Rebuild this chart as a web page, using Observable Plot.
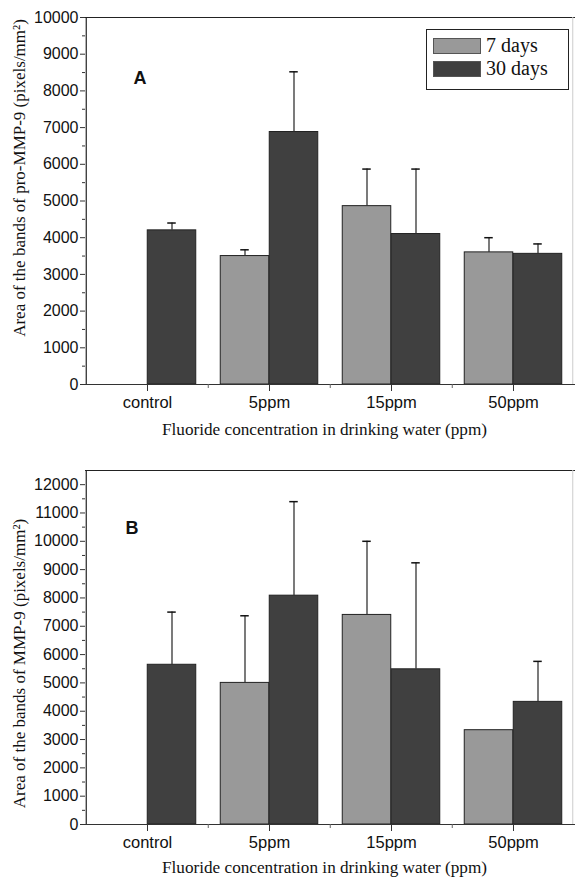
<!DOCTYPE html>
<html><head><meta charset="utf-8">
<script src="https://cdn.jsdelivr.net/npm/d3@7"></script>
<script src="https://cdn.jsdelivr.net/npm/@observablehq/plot@0.6"></script>
<style>
body{margin:0;background:#fff;width:575px;overflow:hidden;}
.panel{position:relative;width:575px;}
.panel svg{display:block;}
.legend{position:absolute;left:426px;top:29px;width:141px;height:59px;border:1.5px solid #222;background:#fff;font-family:"Liberation Serif",serif;font-size:20px;color:#111;}
.legend .row{position:absolute;left:6px;height:17px;display:flex;align-items:center;}
.legend .sw{width:48px;height:16px;border:1px solid #555;box-sizing:border-box;margin-right:5px;}
</style>
</head><body>
<div id="panelA" class="panel"></div>
<div id="panelB" class="panel"></div>
<script>
const categories = ["control", "5ppm", "15ppm", "50ppm"];
const seriesNames = ["7 days", "30 days"];
const seriesColors = ["#999999", "#404040"];

// Panel A: pro-MMP-9
const proMMP9_7d     = [null, 3500, 4860, 3600];
const proMMP9_7d_err = [null, 170, 1010, 400];
const proMMP9_30d     = [4200, 6880, 4100, 3560];
const proMMP9_30d_err = [200, 1640, 1770, 270];

// Panel B: MMP-9
const MMP9_7d     = [null, 5000, 7400, 3330];
const MMP9_7d_err = [null, 2370, 2600, 0];
const MMP9_30d     = [5640, 8080, 5480, 4330];
const MMP9_30d_err = [1860, 3320, 3760, 1430];

const yTicksA = [0,1000,2000,3000,4000,5000,6000,7000,8000,9000,10000];
const yTicksB = [0,1000,2000,3000,4000,5000,6000,7000,8000,9000,10000,11000,12000];

function rows(v7, e7, v30, e30) {
  const out = [];
  categories.forEach((c, i) => {
    if (v7[i] != null) out.push({cat: c, series: seriesNames[0], value: v7[i], err: e7[i]});
    if (v30[i] != null) out.push({cat: c, series: seriesNames[1], value: v30[i], err: e30[i]});
  });
  return out;
}

function panel({data, yMax, yTicks, letter, letterDx, letterDy, ylabel, height, marginTop, marginBottom, ylabelDy, xlabelDy}) {
  const width = 575, marginLeft = 85, marginRight = 0;
  const bw = (width - marginLeft - marginRight) / categories.length;
  const barW = bw * 0.4;
  const half = bw / 2;
  const capHalf = 4.5;
  const d7 = data.filter(d => d.series === seriesNames[0]);
  const d30 = data.filter(d => d.series === seriesNames[1]);
  const e7 = d7.filter(d => d.err > 0);
  const e30 = d30.filter(d => d.err > 0);
  const minor = yTicks.slice(0, -1).map(t => t + 500).filter(t => t <= yMax);
  const serif = "Liberation Serif, serif";
  return Plot.plot({
    width, height, marginLeft, marginRight, marginTop, marginBottom,
    style: {fontFamily: "Liberation Sans, Arial, sans-serif", fontSize: "15px", color: "#111", background: "#fff"},
    x: {type: "band", domain: categories, padding: 0, label: null},
    y: {domain: [0, yMax], label: null},
    marks: [
      Plot.barY(d7, {x: "cat", y: "value", fill: seriesColors[0], stroke: "#222", strokeWidth: 1, insetLeft: half - barW, insetRight: half}),
      Plot.barY(d30, {x: "cat", y: "value", fill: seriesColors[1], stroke: "#222", strokeWidth: 1, insetLeft: half, insetRight: half - barW}),
      Plot.ruleX(e7, {x: "cat", y1: "value", y2: d => d.value + d.err, dx: -barW / 2, stroke: "#333", strokeWidth: 1.3}),
      Plot.ruleX(e30, {x: "cat", y1: "value", y2: d => d.value + d.err, dx: barW / 2, stroke: "#333", strokeWidth: 1.3}),
      Plot.tickY(e7, {x: "cat", y: d => d.value + d.err, insetLeft: half - barW / 2 - capHalf, insetRight: half + barW / 2 - capHalf, stroke: "#111", strokeWidth: 1.5}),
      Plot.tickY(e30, {x: "cat", y: d => d.value + d.err, insetLeft: half + barW / 2 - capHalf, insetRight: half - barW / 2 - capHalf, stroke: "#111", strokeWidth: 1.5}),
      // frame lines
      Plot.ruleY([0], {stroke: "#333", strokeWidth: 1.2}),
      Plot.ruleY([yMax], {stroke: "#222", strokeWidth: 1.2}),
      Plot.ruleX([categories[0]], {x: d => d, dx: -half, stroke: "#222", strokeWidth: 1.2}),
      Plot.ruleX([categories[categories.length - 1]], {x: d => d, dx: half - 2, stroke: "#ccc", strokeWidth: 1}),
      // axes
      Plot.axisY(yTicks, {tickSize: 5, tickPadding: 2, label: null, stroke: "#333", fontSize: 16, tickFormat: d3.format("d")}),
      Plot.axisY(minor, {tickSize: 3, tickFormat: () => "", label: null, stroke: "#333"}),
      Plot.axisX(categories, {tickSize: 7, tickPadding: 5, label: null, stroke: "#333", fontSize: 16.5}),
      Plot.axisX(categories.slice(1), {tickSize: 4, tickFormat: () => "", label: null, dx: -half, stroke: "#666"}),
      // titles
      Plot.text([ylabel], {frameAnchor: "left", textAnchor: "middle", rotate: -90, dx: -66, dy: ylabelDy, fontFamily: serif, fontSize: 17, fill: "#111"}),
      Plot.text(["Fluoride concentration in drinking water (ppm)"], {frameAnchor: "bottom", dx: -6, dy: xlabelDy, fontFamily: serif, fontSize: 17.2, fill: "#111"}),
      Plot.text([letter], {frameAnchor: "top-left", dx: letterDx, dy: letterDy, fontFamily: "Liberation Sans, Arial, sans-serif", fontWeight: "bold", fontSize: 18, fill: "#111", textAnchor: "start"})
    ]
  });
}

const chartA = panel({
  data: rows(proMMP9_7d, proMMP9_7d_err, proMMP9_30d, proMMP9_30d_err),
  yMax: 10000, yTicks: yTicksA, letter: "A", letterDx: 48, letterDy: 54,
  ylabel: "Area of the bands of pro-MMP-9 (pixels/mm²)",
  height: 440, marginTop: 17, marginBottom: 56, ylabelDy: -23, xlabelDy: 50
});
const chartB = panel({
  data: rows(MMP9_7d, MMP9_7d_err, MMP9_30d, MMP9_30d_err),
  yMax: 12500, yTicks: yTicksB, letter: "B", letterDx: 40, letterDy: 51,
  ylabel: "Area of the bands of MMP-9 (pixels/mm²)",
  height: 442, marginTop: 30, marginBottom: 58, ylabelDy: 16, xlabelDy: 48
});

const pa = document.getElementById("panelA");
pa.appendChild(chartA);
const legend = document.createElement("div");
legend.className = "legend";
seriesNames.forEach((name, i) => {
  const row = document.createElement("div");
  row.className = "row";
  row.style.top = (i === 0 ? 7 : 30) + "px";
  const sw = document.createElement("div");
  sw.className = "sw";
  sw.style.background = seriesColors[i];
  const lab = document.createElement("span");
  lab.textContent = name;
  row.appendChild(sw); row.appendChild(lab);
  legend.appendChild(row);
});
pa.appendChild(legend);
document.getElementById("panelB").appendChild(chartB);
</script>
</body></html>
